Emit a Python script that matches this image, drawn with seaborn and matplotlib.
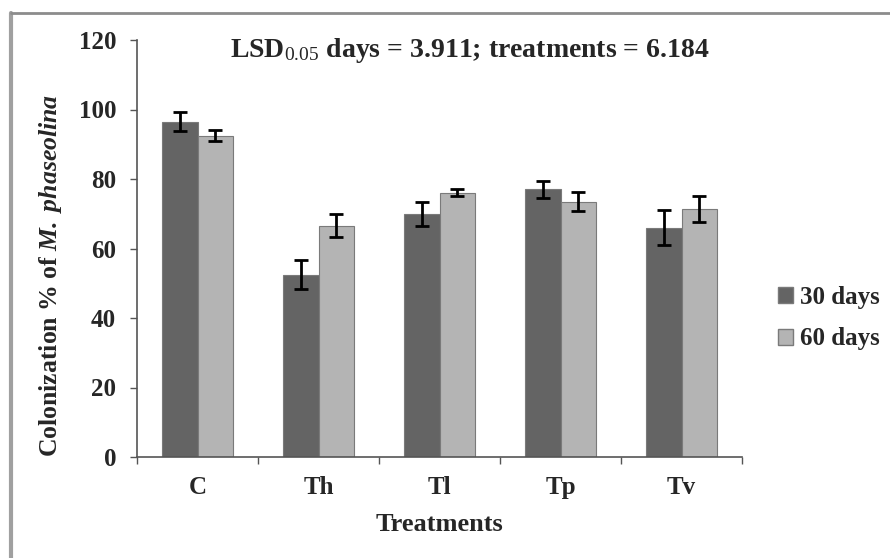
import matplotlib
matplotlib.use("Agg")
import matplotlib.pyplot as plt
import seaborn as sns
import pandas as pd
import numpy as np
from matplotlib.lines import Line2D
from matplotlib.patches import Patch

categories = ["C", "Th", "Tl", "Tp", "Tv"]
series_names = ["30 days", "60 days"]
values_30 = [96.5, 52.5, 70.0, 77.0, 66.0]
values_60 = [92.5, 66.5, 76.0, 73.5, 71.3]
err_30 = [2.8, 4.2, 3.5, 2.5, 5.0]
err_60 = [1.5, 3.3, 1.0, 2.7, 3.8]
yticks = [0, 20, 40, 60, 80, 100, 120]

sns.set_theme(style="white")
plt.rcParams['font.family'] = ['Liberation Serif', 'DejaVu Serif']
plt.rcParams['mathtext.fontset'] = 'custom'
plt.rcParams['mathtext.rm'] = 'Liberation Serif'
plt.rcParams['mathtext.bf'] = 'Liberation Serif:bold'
plt.rcParams['mathtext.it'] = 'Liberation Serif:italic'
plt.rcParams['mathtext.bfit'] = 'Liberation Serif:bold:italic'

df = pd.DataFrame({
    "Treatment": categories * 2,
    "Days": [series_names[0]] * len(categories) + [series_names[1]] * len(categories),
    "Value": values_30 + values_60,
    "Err": err_30 + err_60,
})

colors = {"30 days": "#646464", "60 days": "#b4b4b4"}

fig = plt.figure(figsize=(8.9, 5.58), dpi=100)
ax = fig.add_axes([137/890, 1-457/558, (742-137)/890, (457-40)/558])

sns.barplot(data=df, x="Treatment", y="Value", hue="Days", order=categories,
            hue_order=series_names, palette=colors, width=0.585, gap=0,
            edgecolor="#7a7a7a", linewidth=0.8, errorbar=None, legend=False, ax=ax)

for container, name in zip(ax.containers, series_names):
    sub = df[df["Days"] == name].set_index("Treatment").loc[categories]
    xs = [p.get_x() + p.get_width()/2 for p in container.patches]
    ax.errorbar(xs, sub["Value"].values, yerr=sub["Err"].values, fmt="none",
                ecolor="black", elinewidth=2, capsize=5, capthick=2, zorder=5)

ax.set_ylim(0, 120)
ax.set_xlim(-0.5, len(categories) - 0.5)
ax.set_yticks(yticks)
ax.set_yticklabels([str(t) for t in yticks], fontsize=18, fontweight="bold")
ax.set_xticks(range(len(categories)))
ax.set_xticklabels(categories, fontsize=18, fontweight="bold")
ax.tick_params(axis="x", length=0, pad=14)
ax.tick_params(axis="y", length=5, width=1, direction="out", color="#555555", pad=10, left=True)
ax.set_xticks(np.arange(-0.5, len(categories), 1.0), minor=True)
ax.tick_params(axis="x", which="minor", length=5, width=1, direction="out", color="#555555", bottom=True)

for s in ["top", "right"]:
    ax.spines[s].set_visible(False)
for s in ["left", "bottom"]:
    ax.spines[s].set_color("#555555")
    ax.spines[s].set_linewidth(1.2)

ax.set_xlabel("Treatments", fontsize=19, fontweight="bold", labelpad=10)
ax.set_ylabel(r"Colonization % of $\mathbfit{M.\ phaseolina}$", fontsize=18.5,
              fontweight="bold")
ax.yaxis.set_label_coords(-0.121, 0.436)

ax.set_title(r"LSD$_{\mathrm{0.05}}$ days = 3.911; treatments = 6.184",
             fontsize=20, fontweight="bold", x=0.55, y=0.94)

handles = [Patch(facecolor=colors[n], edgecolor="#7a7a7a", label=n) for n in series_names]
leg = fig.legend(handles=handles, loc="center left", bbox_to_anchor=(778/890, 1-318/558),
                 frameon=False, prop={"family": "Liberation Serif", "weight": "bold", "size": 18},
                 handlelength=0.6, handleheight=0.6, handletextpad=0.3, labelspacing=0.75,
                 borderpad=0, borderaxespad=0)

fig.add_artist(Line2D([10.5/890, 10.5/890], [0, 1-13/558], color="#a0a0a0", lw=3,
                      transform=fig.transFigure))
fig.add_artist(Line2D([10.5/890, 1], [1-13/558, 1-13/558], color="#8c8c8c", lw=2,
                      transform=fig.transFigure))

fig.savefig("out.png", dpi=100)
